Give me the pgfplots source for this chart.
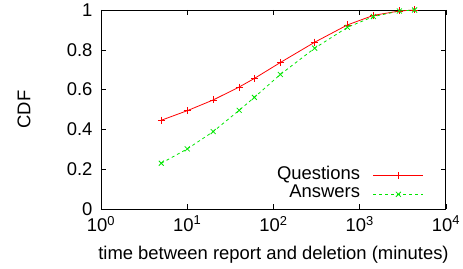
\documentclass[border=0pt]{standalone}
\usepackage{fontspec}
\setmainfont{Liberation Sans}
\usepackage{pgfplots}
\pgfplotsset{compat=1.18}
\definecolor{gpred}{RGB}{255,0,0}
\definecolor{gpgreen}{RGB}{0,230,0}
\begin{document}
\begin{tikzpicture}[font=\fontsize{18.5}{21}\selectfont]
\begin{axis}[
  at={(0,0)}, anchor=south west,
  scale only axis,
  width=345bp, height=199bp,
  xmode=log, log basis x=10,
  xmin=1, xmax=10000, ymin=0, ymax=1,
  xtick={1,10,100,1000,10000},
  xticklabels={10\textsuperscript{0},10\textsuperscript{1},10\textsuperscript{2},10\textsuperscript{3},10\textsuperscript{4}},
  ytick={0,0.2,0.4,0.6,0.8,1},
  yticklabels={0,0.2,0.4,0.6,0.8,1},
  /pgf/number format/assume math mode=true,
  tick label style={font=\fontsize{18.5}{21}\selectfont},
  label style={font=\fontsize{18.5}{21}\selectfont},
  tick align=inside,
  tick style={black, line width=0.6pt},
  major tick length=5bp, minor tick length=3bp,
  axis line style={black, line width=1pt},
  xlabel={time between report and deletion (minutes)},
  ylabel={CDF},
  xlabel style={at={(axis description cs:0.5,-0.23)}, anchor=center},
  ylabel style={at={(axis description cs:-0.2232,0.5)}, anchor=center},
  yticklabel style={xshift=-5bp},
  xticklabel style={yshift=-3.5bp},
  legend style={draw=none, fill=none, at={(1,0)}, anchor=south east, xshift=-22bp, yshift=6bp, inner sep=0pt, row sep=1.5bp, column sep=12bp,
    font=\fontsize{18.5}{21}\selectfont, nodes={inner sep=1bp, text height=11bp, text depth=4bp}},
  legend plot pos=right,
  legend cell align=right,
  legend image code/.code={\draw[#1] (0bp,0bp) -- (50bp,0bp); \draw[#1, only marks] plot coordinates {(25bp,0bp)};},
]
\addplot[gpred, line width=0.8pt, mark=+, mark size=3.5bp, mark options={solid}] coordinates {
(5,0.446) (10,0.494) (20,0.548) (40,0.613) (60,0.656) (120,0.736) (300,0.838) (720,0.925) (1440,0.973) (2880,0.995) (4320,1.0)
};
\addlegendentry{Questions}
\addplot[gpgreen, line width=0.8pt, dashed, mark=x, mark size=3.5bp, mark options={solid}] coordinates {
(5,0.230) (10,0.302) (20,0.389) (40,0.496) (60,0.561) (120,0.676) (300,0.808) (720,0.913) (1440,0.967) (2880,0.995) (4320,1.0)
};
\addlegendentry{Answers}
\end{axis}
\pgfresetboundingbox
\path[use as bounding box] (-101bp,-60bp) rectangle (362bp,209bp);
\end{tikzpicture}
\end{document}
